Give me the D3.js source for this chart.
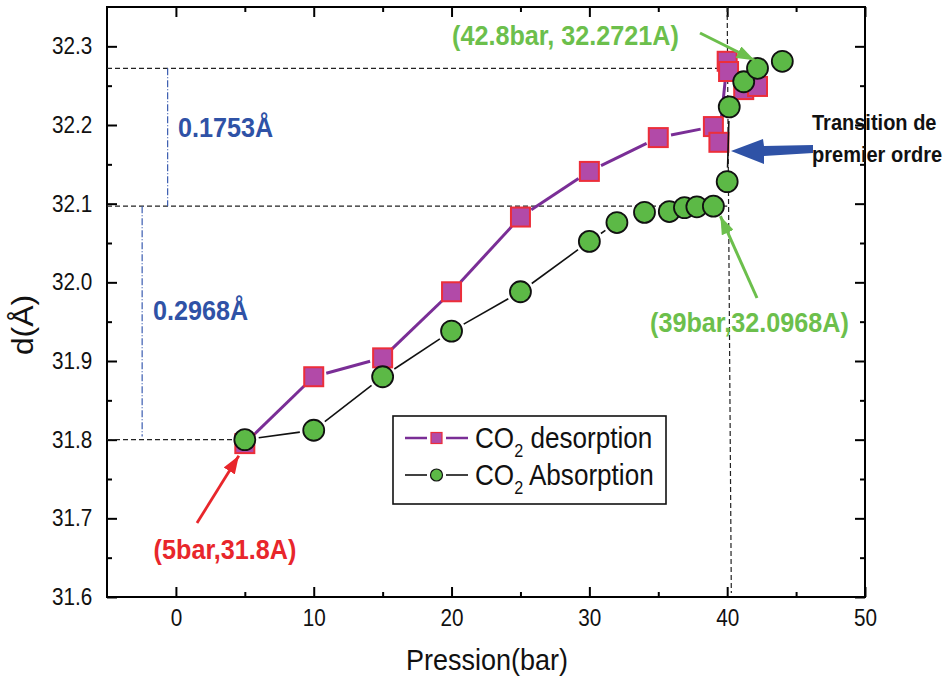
<!DOCTYPE html>
<html><head><meta charset="utf-8">
<script src="https://cdn.jsdelivr.net/npm/d3@7"></script>
<style>body{margin:0;background:#fff}svg{display:block}</style>
</head><body><svg id="c" width="946" height="679"></svg>
<script>
// ---- data ----
const desorpX = [5,10,15,20,25,30,35,39,39.4,40,40.1,41.2,42.2];
const desorpY = [31.795,31.880,31.904,31.988,32.083,32.141,32.184,32.198,32.178,32.281,32.268,32.245,32.249];
const absorpX = [5,10,15,20,25,30,32,34,35.8,36.9,37.8,39,40,40.15,41.2,42.2,44];
const absorpY = [31.800,31.812,31.880,31.938,31.988,32.052,32.076,32.089,32.090,32.095,32.096,32.0968,32.128,32.223,32.255,32.2721,32.281];
const xTicks = [0,10,20,30,40,50];
const xMinor = [5,15,25,35,45];
const yTicks = [31.6,31.7,31.8,31.9,32.0,32.1,32.2,32.3];
const yMinor = [31.65,31.75,31.85,31.95,32.05,32.15,32.25];
const seriesNames = ["desorption","Absorption"];
const refLevels = [32.2721,32.0968,31.8];
const refEnds = [40,40,5];
const deltaLabels = ["0.1753Å","0.2968Å"];
const pointLabels = ["(5bar,31.8A)","(42.8bar, 32.2721A)","(39bar,32.0968A)"];
const transitionLabel = ["Transition de","premier ordre"];

const svg = d3.select("#c");
const L=107, R=865, T=7, B=597;
const x = d3.scaleLinear().domain([-5,50]).range([L,R]);
const y = d3.scaleLinear().domain([31.6,32.35]).range([B,T]);
const FONT = "'Liberation Sans', Arial, sans-serif";
const SX = 0.9;

const defs = svg.append("defs");
function marker(id,color,w,h){
  defs.append("marker").attr("id",id).attr("viewBox",`0 0 ${w} ${h}`)
    .attr("refX",w).attr("refY",h/2).attr("markerWidth",w).attr("markerHeight",h)
    .attr("markerUnits","userSpaceOnUse").attr("orient","auto")
    .append("path").attr("d",`M0,0L${w},${h/2}L0,${h}Z`).attr("fill",color);
}
marker("ar","#e8262b",18,13);
marker("ag","#6cbf4c",18,13);

// ---- axes ----
function styleAxis(g){ g.selectAll("path").remove(); g.selectAll("line").attr("stroke","#000").attr("stroke-width",2);
  g.selectAll("text").attr("font-family",FONT).attr("font-size",23).attr("fill","#111")
   .attr("transform",`scale(${SX},1)`); }
svg.append("g").attr("transform",`translate(0,${B})`)
  .call(d3.axisBottom(x).tickValues(xTicks).tickSizeInner(-10).tickSizeOuter(0).tickPadding(13).tickFormat(d3.format("d"))).call(styleAxis);
svg.append("g").attr("transform",`translate(0,${B})`)
  .call(d3.axisBottom(x).tickValues(xMinor).tickSize(-5).tickFormat("")).call(styleAxis);
svg.append("g").attr("transform",`translate(0,${T})`)
  .call(d3.axisTop(x).tickValues(xTicks).tickSize(-10).tickFormat("")).call(styleAxis);
svg.append("g").attr("transform",`translate(0,${T})`)
  .call(d3.axisTop(x).tickValues(xMinor).tickSize(-5).tickFormat("")).call(styleAxis);
svg.append("g").attr("transform",`translate(${L},0)`)
  .call(d3.axisLeft(y).tickValues(yTicks).tickSizeInner(-10).tickSizeOuter(0).tickPadding(16.5).tickFormat(d3.format(".1f"))).call(styleAxis);
svg.append("g").attr("transform",`translate(${L},0)`)
  .call(d3.axisLeft(y).tickValues(yMinor).tickSize(-5).tickFormat("")).call(styleAxis);
svg.append("g").attr("transform",`translate(${R},0)`)
  .call(d3.axisRight(y).tickValues(yTicks).tickSize(-10).tickFormat("")).call(styleAxis);
svg.append("g").attr("transform",`translate(${R},0)`)
  .call(d3.axisRight(y).tickValues(yMinor).tickSize(-5).tickFormat("")).call(styleAxis);
svg.append("rect").attr("x",L).attr("y",T).attr("width",R-L).attr("height",B-T)
  .attr("fill","none").attr("stroke","#000").attr("stroke-width",2);

svg.append("text").attr("transform",`translate(487,670) scale(${SX},1)`).attr("text-anchor","middle")
  .attr("font-family",FONT).attr("font-size",30).attr("fill","#111").text("Pression(bar)");
svg.append("text").attr("transform","translate(33,325) rotate(-90) scale(1.1,1)").attr("text-anchor","middle")
  .attr("font-family",FONT).attr("font-size",29).attr("fill","#111").text("d(Å)");

// ---- reference lines ----
refLevels.forEach((v,i)=>{
  svg.append("line").attr("x1",x(-5)).attr("x2",x(refEnds[i])).attr("y1",y(v)).attr("y2",y(v))
    .attr("stroke","#222").attr("stroke-width",1.2).attr("stroke-dasharray","5,3");
});
svg.append("line").attr("x1",x(40.0)).attr("y1",y(32.35)).attr("x2",x(40.3)).attr("y2",y(31.605))
  .attr("stroke","#222").attr("stroke-width",1.2).attr("stroke-dasharray","5,3");
svg.append("line").attr("x1",x(-0.6)).attr("x2",x(-0.6)).attr("y1",y(refLevels[0])).attr("y2",y(refLevels[1]))
  .attr("stroke","#3a5cb0").attr("stroke-width",1.2).attr("stroke-dasharray","7,2,1,2");
svg.append("line").attr("x1",x(-2.45)).attr("x2",x(-2.45)).attr("y1",y(refLevels[1])).attr("y2",y(refLevels[2]+0.004))
  .attr("stroke","#3a5cb0").attr("stroke-width",1.2).attr("stroke-dasharray","7,2,1,2");

// ---- series (Origin-style lines with gaps at markers) ----
const des = desorpX.map((v,i)=>[v,desorpY[i]]);
const abs = absorpX.map((v,i)=>[v,absorpY[i]]);
function gapSegments(pts,trim){
  const segs=[];
  for(let i=0;i<pts.length-1;i++){
    const x1=x(pts[i][0]),y1=y(pts[i][1]),x2=x(pts[i+1][0]),y2=y(pts[i+1][1]);
    const dx=x2-x1, dy=y2-y1, len=Math.hypot(dx,dy);
    if(len>2*trim+2){ const ux=dx/len, uy=dy/len;
      segs.push([x1+ux*trim,y1+uy*trim,x2-ux*trim,y2-uy*trim]); }
  }
  return segs;
}
svg.selectAll(".dl").data(gapSegments(des,13)).join("line")
  .attr("x1",d=>d[0]).attr("y1",d=>d[1]).attr("x2",d=>d[2]).attr("y2",d=>d[3])
  .attr("stroke","#7a2e96").attr("stroke-width",3);
const S=19;
svg.selectAll(".sq").data(des).join("rect").attr("x",d=>x(d[0])-S/2).attr("y",d=>y(d[1])-S/2)
  .attr("width",S).attr("height",S).attr("fill","#b24aa8").attr("stroke","#ec2e3a").attr("stroke-width",2);
svg.selectAll(".al").data(gapSegments(abs,14)).join("line")
  .attr("x1",d=>d[0]).attr("y1",d=>d[1]).attr("x2",d=>d[2]).attr("y2",d=>d[3])
  .attr("stroke","#111").attr("stroke-width",1.6);
svg.selectAll(".ci").data(abs).join("circle").attr("cx",d=>x(d[0])).attr("cy",d=>y(d[1]))
  .attr("r",10.5).attr("fill","#5cb946").attr("stroke","#111").attr("stroke-width",1.8);

// ---- annotations ----
function txt(xp,yp,s,color,size,anchor,sx){ return svg.append("text")
  .attr("transform",`translate(${xp},${yp}) scale(${sx||SX},1)`).attr("text-anchor",anchor||"start")
  .attr("font-family",FONT).attr("font-weight","bold").attr("font-size",size).attr("fill",color).text(s); }
txt(178,137,deltaLabels[0],"#2f52a6",28);
txt(153,320,deltaLabels[1],"#2f52a6",28);
txt(225,559,pointLabels[0],"#e8262b",28,"middle");
txt(452,45,pointLabels[1],"#6cbf4c",28);
txt(650,332,pointLabels[2],"#6cbf4c",28);
txt(812,130,transitionLabel[0],"#111",22,"start",0.91);
txt(812,162,transitionLabel[1],"#111",22,"start",0.91);

svg.append("line").attr("x1",197).attr("y1",523).attr("x2",x(5)-6).attr("y2",y(31.8)+16)
  .attr("stroke","#e8262b").attr("stroke-width",2.8).attr("marker-end","url(#ar)");
svg.append("line").attr("x1",700).attr("y1",33).attr("x2",x(42.2)-3).attr("y2",y(32.2721)-8)
  .attr("stroke","#6cbf4c").attr("stroke-width",3).attr("marker-end","url(#ag)");
svg.append("line").attr("x1",757).attr("y1",298).attr("x2",x(39)+7).attr("y2",y(32.0968)+10)
  .attr("stroke","#6cbf4c").attr("stroke-width",3).attr("marker-end","url(#ag)");
svg.append("path").attr("d","M813,145 L764,146 L763,139 L731,151 L764,164 L764,156 L813,153 Z")
  .attr("fill","#2f52a6");

// ---- legend ----
const lg = svg.append("g");
lg.append("rect").attr("x",393).attr("y",416).attr("width",273).attr("height",88)
  .attr("fill","#fff").attr("stroke","#111").attr("stroke-width",1.6);
const rows=[438,475];
[0,1].forEach(i=>{
  const yy=rows[i];
  [[405,427],[446,468]].forEach(s=>lg.append("line").attr("x1",s[0]).attr("x2",s[1]).attr("y1",yy).attr("y2",yy)
    .attr("stroke",i===0?"#7a2e96":"#111").attr("stroke-width",i===0?2.5:1.6));
  if(i===0) lg.append("rect").attr("x",431).attr("y",yy-5.5).attr("width",11).attr("height",11)
    .attr("fill","#b24aa8").attr("stroke","#ec2e3a").attr("stroke-width",1.2);
  else lg.append("circle").attr("cx",436.5).attr("cy",yy).attr("r",6).attr("fill","#5cb946").attr("stroke","#111").attr("stroke-width",1.2);
  const t = lg.append("text").attr("transform",`translate(475,${yy+10}) scale(${SX},1)`)
    .attr("font-family",FONT).attr("font-size",29).attr("fill","#111");
  t.append("tspan").text("CO");
  t.append("tspan").attr("font-size",18).attr("dy",9).text("2");
  t.append("tspan").attr("dy",-9).text(" "+seriesNames[i]);
});
</script></body></html>
